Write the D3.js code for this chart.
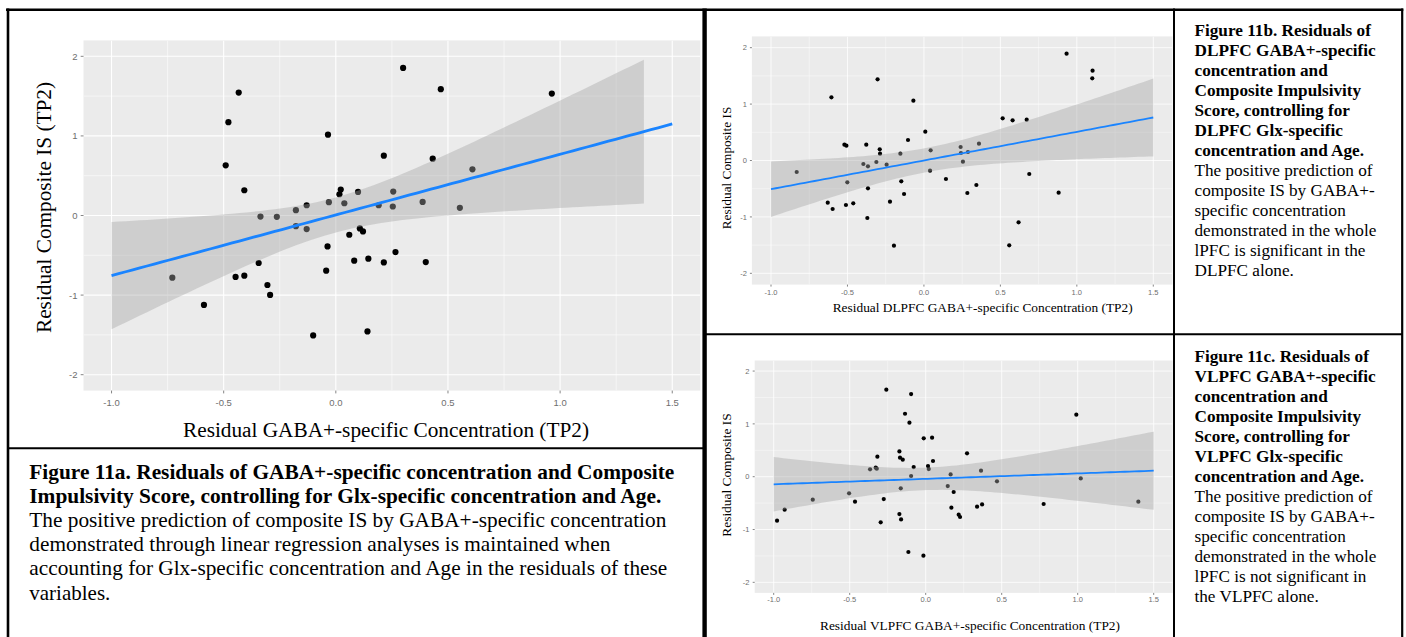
<!DOCTYPE html>
<html><head><meta charset="utf-8">
<script src="https://cdn.jsdelivr.net/npm/d3@7"></script>
<style>html,body{margin:0;padding:0;background:#fff;} svg{display:block;}</style>
</head><body>
<svg id="chart" width="1406" height="637"></svg>
<script>
// ================= DATA =================
const xTicks = [-1.0, -0.5, 0.0, 0.5, 1.0, 1.5];
const xTickLabels = ["-1.0", "-0.5", "0.0", "0.5", "1.0", "1.5"];
const xMinor = [-0.75, -0.25, 0.25, 0.75, 1.25];
const yTicks = [-2, -1, 0, 1, 2];
const yTickLabels = ["-2", "-1", "0", "1", "2"];
const yMinor = [-1.5, -0.5, 0.5, 1.5];
const xLimits = [-1, 1.5];
const yLimits = [-2, 2];

// Figure 11a: whole lPFC
const aX = [-0.729,-0.588,-0.491,-0.479,-0.433,-0.447,-0.408,-0.408,-0.344,-0.336,-0.305,-0.293,-0.263,-0.178,-0.178,-0.130,-0.130,-0.101,-0.043,-0.037,-0.035,-0.031,0.016,0.022,0.038,0.060,0.082,0.099,0.107,0.121,0.141,0.145,0.191,0.214,0.214,0.254,0.256,0.266,0.300,0.387,0.401,0.432,0.468,0.553,0.609,0.963];
const aY = [-0.781,-1.123,0.630,1.173,1.545,-0.772,-0.756,0.317,-0.597,-0.013,-0.873,-0.998,-0.017,0.067,-0.134,0.129,-0.171,-1.507,-0.693,-0.388,1.015,0.167,0.267,0.326,0.154,-0.242,-0.568,0.296,-0.163,-0.200,-1.457,-0.543,0.129,0.752,-0.589,0.113,0.301,-0.459,1.854,0.171,-0.585,0.714,1.587,0.096,0.580,1.532];

// Figure 11b: DLPFC
const bX = [-0.832,-0.629,-0.597,-0.605,-0.520,-0.507,-0.501,-0.510,-0.462,-0.396,-0.366,-0.377,-0.366,-0.370,-0.311,-0.303,-0.289,-0.287,-0.244,-0.222,-0.196,-0.154,-0.148,-0.130,-0.104,-0.069,0.009,0.040,0.044,0.144,0.240,0.242,0.255,0.284,0.288,0.343,0.360,0.515,0.558,0.580,0.619,0.672,0.689,0.881,0.933,1.103,1.101];
const bY = [-0.204,-0.747,-0.860,1.120,0.281,0.263,-0.387,-0.789,-0.759,-0.062,-0.103,0.281,-0.493,-1.019,-0.027,1.439,0.198,0.121,-0.074,-0.730,-1.510,0.121,-0.369,-0.594,0.363,1.061,0.511,-0.180,0.180,-0.328,0.239,0.133,-0.021,-0.576,0.151,-0.434,0.298,0.747,-1.504,0.712,-1.096,0.724,-0.239,-0.570,1.894,1.592,1.456];

// Figure 11c: VLPFC
const cX = [-0.978,-0.928,-0.743,-0.504,-0.465,-0.366,-0.329,-0.322,-0.318,-0.296,-0.276,-0.259,-0.173,-0.169,-0.151,-0.164,-0.173,-0.162,-0.136,-0.107,-0.114,-0.096,-0.096,-0.079,-0.013,-0.015,0.015,0.020,0.042,0.048,0.145,0.164,0.169,0.184,0.217,0.226,0.272,0.338,0.364,0.371,0.469,0.776,0.991,1.020,1.399];
const cY = [-0.833,-0.625,-0.435,-0.315,-0.473,0.139,0.170,0.151,0.379,-0.864,-0.423,1.647,0.479,0.360,0.322,-0.221,-0.707,-0.808,1.192,1.022,-1.426,1.565,0.013,0.183,0.726,-1.495,0.202,0.145,0.738,0.297,-0.177,0.044,-0.587,-0.290,-0.719,-0.763,0.442,-0.568,0.114,-0.524,-0.088,-0.517,1.174,-0.032,-0.473];

const titlesX = ["Residual GABA+-specific Concentration (TP2)",
                 "Residual DLPFC GABA+-specific Concentration (TP2)",
                 "Residual VLPFC GABA+-specific Concentration (TP2)"];
const titlesY = ["Residual Composite IS (TP2)", "Residual Composite IS", "Residual Composite IS"];

const captionA = [
  "Figure 11a. Residuals of GABA+-specific concentration and Composite",
  "Impulsivity Score, controlling for Glx-specific concentration and Age.",
  "The positive prediction of composite IS by GABA+-specific concentration",
  "demonstrated through linear regression analyses is maintained when",
  "accounting for Glx-specific concentration and Age in the residuals of these",
  "variables."];
const captionB = [
  "Figure 11b. Residuals of", "DLPFC GABA+-specific", "concentration and",
  "Composite Impulsivity", "Score, controlling for", "DLPFC Glx-specific",
  "concentration and Age.", "The positive prediction of", "composite IS by GABA+-",
  "specific concentration", "demonstrated in the whole", "lPFC is significant in the",
  "DLPFC alone."];
const captionC = [
  "Figure 11c. Residuals of", "VLPFC GABA+-specific", "concentration and",
  "Composite Impulsivity", "Score, controlling for", "VLPFC Glx-specific",
  "concentration and Age.", "The positive prediction of", "composite IS by GABA+-",
  "specific concentration", "demonstrated in the whole", "lPFC is not significant in",
  "the VLPFC alone."];

// ================= LAYOUT =================
const SERIF = "'Liberation Serif','Times New Roman',Times,serif";
const SANS = "'Liberation Sans',Arial,Helvetica,sans-serif";
const panels = [
  {xs:aX, ys:aY, xr:[83.5,700.3], yr:[390.6,40.4], r:3.1, lw:2.8, tf:9.5, tl:2.8, xlabBase:405.5, ylabRight:77.5, grid:[1.1,0.55],
   xt:{x:386, y:436.7, size:21.3, len:406}, yt:{x:50.7, y:207.5, size:21.3, len:251}},
  {xs:bX, ys:bY, xr:[751.9,1172.4], yr:[284.6,36.4], r:2.1, lw:1.8, tf:7.5, tl:2, xlabBase:295, ylabRight:747, grid:[0.8,0.4],
   xt:{x:982.7, y:311.7, size:13.4, len:300}, yt:{x:730.5, y:168, size:13.3, len:122.6}},
  {xs:cX, ys:cY, xr:[754.7,1172.7], yr:[592.9,360.5], r:2.1, lw:1.8, tf:7.5, tl:2, xlabBase:602, ylabRight:749.5, grid:[0.8,0.4],
   xt:{x:970, y:630, size:13.4, len:300}, yt:{x:730.5, y:475, size:13.3, len:123.4}}
];

// ================= STATS (lm smoother, like geom_smooth(method="lm")) =================
function qt975(df){
  const z = 1.959964;
  return z + (z**3+z)/(4*df) + (5*z**5+16*z**3+3*z)/(96*df*df) + (3*z**7+19*z**5+17*z**3-15*z)/(384*df**3);
}
function lmSmooth(xs, ys, lo, hi, n){
  const N = xs.length, mx = d3.mean(xs), my = d3.mean(ys);
  let sxx = 0, sxy = 0;
  for (let i = 0; i < N; i++){ sxx += (xs[i]-mx)**2; sxy += (xs[i]-mx)*(ys[i]-my); }
  const b = sxy/sxx, a = my - b*mx;
  let sse = 0;
  for (let i = 0; i < N; i++){ sse += (ys[i] - a - b*xs[i])**2; }
  const s = Math.sqrt(sse/(N-2)), t = qt975(N-2);
  return d3.range(n).map(i => {
    const x = lo + (hi-lo)*i/(n-1), f = a + b*x;
    const se = s*Math.sqrt(1/N + (x-mx)**2/sxx);
    return {x, f, lo: f - t*se, hi: f + t*se};
  });
}

// ================= DRAW =================
const svg = d3.select("#chart");
svg.append("rect").attr("width",1406).attr("height",637).attr("fill","#fff");
const defs = svg.append("defs");

panels.forEach((p, k) => {
  const xDom = [xLimits[0] - 0.05*(xLimits[1]-xLimits[0]), xLimits[1] + 0.05*(xLimits[1]-xLimits[0])];
  const yDom = [yLimits[0] - 0.05*(yLimits[1]-yLimits[0]), yLimits[1] + 0.05*(yLimits[1]-yLimits[0])];
  const x = d3.scaleLinear().domain(xDom).range(p.xr);
  const y = d3.scaleLinear().domain(yDom).range(p.yr);
  const g = svg.append("g");
  const cid = "clip" + k;
  defs.append("clipPath").attr("id", cid).append("rect")
    .attr("x", p.xr[0]).attr("y", p.yr[1]).attr("width", p.xr[1]-p.xr[0]).attr("height", p.yr[0]-p.yr[1]);

  g.append("rect").attr("x", p.xr[0]).attr("y", p.yr[1]).attr("width", p.xr[1]-p.xr[0]).attr("height", p.yr[0]-p.yr[1]).attr("fill", "#ebebeb");
  const pg = g.append("g").attr("clip-path", `url(#${cid})`);
  // minor grid
  pg.selectAll(null).data(xMinor).enter().append("line")
    .attr("x1", d=>x(d)).attr("x2", d=>x(d)).attr("y1", p.yr[0]).attr("y2", p.yr[1])
    .attr("stroke", "#fff").attr("stroke-width", p.grid[1]);
  pg.selectAll(null).data(yMinor).enter().append("line")
    .attr("y1", d=>y(d)).attr("y2", d=>y(d)).attr("x1", p.xr[0]).attr("x2", p.xr[1])
    .attr("stroke", "#fff").attr("stroke-width", p.grid[1]);
  // major grid
  pg.selectAll(null).data(xTicks).enter().append("line")
    .attr("x1", d=>x(d)).attr("x2", d=>x(d)).attr("y1", p.yr[0]).attr("y2", p.yr[1])
    .attr("stroke", "#fff").attr("stroke-width", p.grid[0]);
  pg.selectAll(null).data(yTicks).enter().append("line")
    .attr("y1", d=>y(d)).attr("y2", d=>y(d)).attr("x1", p.xr[0]).attr("x2", p.xr[1])
    .attr("stroke", "#fff").attr("stroke-width", p.grid[0]);

  // points
  const pts = p.xs.map((v,i) => ({x:v, y:p.ys[i]}));
  pg.selectAll(null).data(pts).enter().append("circle")
    .attr("cx", d=>x(d.x)).attr("cy", d=>y(d.y)).attr("r", p.r).attr("fill", "#000");

  // smoother
  const sm = lmSmooth(p.xs, p.ys, xLimits[0], xLimits[1], 80);
  const band = sm.filter(d => d.lo >= yLimits[0] && d.hi <= yLimits[1]);
  pg.append("path").datum(band)
    .attr("d", d3.area().x(d=>x(d.x)).y0(d=>y(d.lo)).y1(d=>y(d.hi)))
    .attr("fill", "#a8a8a8").attr("fill-opacity", 0.42);
  pg.append("path").datum(sm.filter(d => d.f >= yLimits[0] && d.f <= yLimits[1]))
    .attr("d", d3.line().x(d=>x(d.x)).y(d=>y(d.f)))
    .attr("fill", "none").attr("stroke", "#1a84ff").attr("stroke-width", p.lw);

  // ticks
  g.selectAll(null).data(xTicks).enter().append("line")
    .attr("x1", d=>x(d)).attr("x2", d=>x(d)).attr("y1", p.yr[0]).attr("y2", p.yr[0]+p.tl)
    .attr("stroke", "#777").attr("stroke-width", 0.9);
  g.selectAll(null).data(yTicks).enter().append("line")
    .attr("y1", d=>y(d)).attr("y2", d=>y(d)).attr("x1", p.xr[0]-p.tl).attr("x2", p.xr[0])
    .attr("stroke", "#777").attr("stroke-width", 0.9);
  g.selectAll(null).data(xTicks).enter().append("text")
    .attr("x", d=>x(d)).attr("y", p.xlabBase).attr("text-anchor", "middle")
    .attr("font-family", SANS).attr("font-size", p.tf).attr("fill", "#6e6e6e")
    .text((d,i)=>xTickLabels[i]);
  g.selectAll(null).data(yTicks).enter().append("text")
    .attr("x", p.ylabRight).attr("y", d=>y(d) + p.tf*0.36).attr("text-anchor", "end")
    .attr("font-family", SANS).attr("font-size", p.tf).attr("fill", "#6e6e6e")
    .text((d,i)=>yTickLabels[i]);

  // axis titles
  g.append("text").attr("x", p.xt.x).attr("y", p.xt.y).attr("text-anchor", "middle")
    .attr("font-family", SERIF).attr("font-size", p.xt.size).attr("fill", "#000")
    .attr("textLength", p.xt.len).attr("lengthAdjust", "spacingAndGlyphs")
    .text(titlesX[k]);
  g.append("text").attr("transform", `translate(${p.yt.x},${p.yt.y}) rotate(-90)`).attr("text-anchor", "middle")
    .attr("font-family", SERIF).attr("font-size", p.yt.size).attr("fill", "#000")
    .attr("textLength", p.yt.len).attr("lengthAdjust", "spacingAndGlyphs")
    .text(titlesY[k]);
});

// ================= CAPTIONS =================
const capAWidths = [645, 632, 637, 581, 638, 81];
const capA = svg.append("g");
captionA.forEach((t, i) => {
  capA.append("text").attr("x", 29.3).attr("y", 478.6 + i*24.2)
    .attr("font-family", SERIF).attr("font-size", 21).attr("font-weight", i < 2 ? "bold" : "normal")
    .attr("textLength", capAWidths[i]).attr("lengthAdjust", "spacingAndGlyphs")
    .attr("fill", "#000").text(t);
});
function sideCaption(lines, y0){
  const gc = svg.append("g");
  lines.forEach((t, i) => {
    gc.append("text").attr("x", 1194.5).attr("y", y0 + i*20)
      .attr("font-family", SERIF).attr("font-size", 17.2).attr("font-weight", i < 7 ? "bold" : "normal")
      .attr("fill", "#000").text(t);
  });
}
sideCaption(captionB, 35.8);
sideCaption(captionC, 361.5);

// ================= TABLE BORDERS =================
const borders = svg.append("g").attr("stroke", "#000").attr("fill", "none");
borders.append("line").attr("x1", 6).attr("x2", 1403.3).attr("y1", 9.7).attr("y2", 9.7).attr("stroke-width", 2.6);
borders.append("line").attr("x1", 8).attr("x2", 8).attr("y1", 8.4).attr("y2", 637).attr("stroke-width", 2.6);
borders.append("line").attr("x1", 704.6).attr("x2", 704.6).attr("y1", 8.4).attr("y2", 637).attr("stroke-width", 4.4);
borders.append("line").attr("x1", 8).attr("x2", 703).attr("y1", 448.3).attr("y2", 448.3).attr("stroke-width", 2);
borders.append("line").attr("x1", 705).attr("x2", 1402).attr("y1", 334.2).attr("y2", 334.2).attr("stroke-width", 2);
borders.append("line").attr("x1", 1174).attr("x2", 1174).attr("y1", 8.4).attr("y2", 637).attr("stroke-width", 2);
borders.append("line").attr("x1", 1402.2).attr("x2", 1402.2).attr("y1", 8.4).attr("y2", 637).attr("stroke-width", 2.2);
</script>
</body></html>
